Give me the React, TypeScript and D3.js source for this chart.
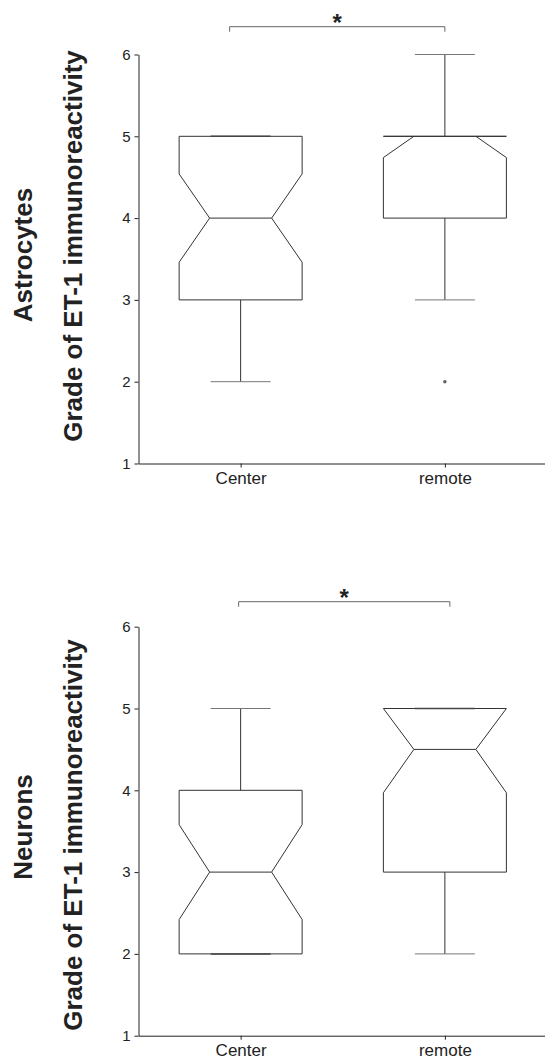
import { useEffect, useRef } from 'react'
import * as d3 from 'd3'

const categories = ['Center', 'remote']
const yTicks = [1, 2, 3, 4, 5, 6]

// per category: [lower whisker, q1, median, q3, upper whisker]
const astroStats = [
  [2, 3, 4, 5, 5],
  [3, 4, 5, 5, 6],
]
const astroNotch = [0.54, 0.26]
const astroOutliers = [[], [2]]

const neuronStats = [
  [2, 2, 3, 4, 5],
  [2, 3, 4.5, 5, 5],
]
const neuronNotch = [0.58, 0.53]
const neuronOutliers = [[], []]

const panels = [
  { title: 'Astrocytes', stats: astroStats, notch: astroNotch, outliers: astroOutliers, top: 54.5, bottom: 463.5, titleY: 255, labelY: 246, bracketY: 26.7, bracketL: -11, bracketR: 0 },
  { title: 'Neurons', stats: neuronStats, notch: neuronNotch, outliers: neuronOutliers, top: 626.7, bottom: 1035.7, titleY: 827, labelY: 835, bracketY: 601.7, bracketL: -2, bracketR: 5 },
]

const FONT = '"Liberation Sans", Arial, Helvetica, sans-serif'

export default function App() {
  const ref = useRef<SVGSVGElement>(null)

  useEffect(() => {
    const svg = d3.select(ref.current)
    svg.selectAll('*').remove()

    const x = d3.scalePoint<string>().domain(categories).range([138.5, 547]).padding(0.5)
    const halfBox = 61.5
    const inset = 30.5
    const halfCap = 30

    panels.forEach(p => {
      const y = d3.scaleLinear().domain([1, 6]).range([p.bottom, p.top])
      const g = svg.append('g')

      // axes
      const ya = g.append('g')
        .attr('transform', 'translate(138.5,0)')
        .call(d3.axisLeft(y).tickValues(yTicks).tickFormat(d3.format('d')).tickSize(4).tickSizeOuter(0).tickPadding(4))
      ya.selectAll('text').attr('font-size', 15).attr('font-family', FONT).attr('fill', '#222')
      ya.selectAll('line,path').attr('stroke', '#222')

      const xa = g.append('g')
        .attr('transform', `translate(0,${p.bottom})`)
        .call(d3.axisBottom(x).tickSize(4).tickSizeOuter(0).tickPadding(4))
      xa.selectAll('text').attr('font-size', 17).attr('font-family', FONT).attr('fill', '#222')
      xa.selectAll('line,path').attr('stroke', '#222')

      // axis titles
      g.append('text')
        .attr('transform', `translate(32,${p.titleY}) rotate(-90)`)
        .attr('text-anchor', 'middle')
        .attr('font-family', FONT).attr('font-weight', 'bold').attr('font-size', 26)
        .attr('fill', '#222')
        .text(p.title)
      g.append('text')
        .attr('transform', `translate(82,${p.labelY}) rotate(-90)`)
        .attr('text-anchor', 'middle')
        .attr('font-family', FONT).attr('font-weight', 'bold').attr('font-size', 26)
        .attr('fill', '#222')
        .text('Grade of ET-1 immunoreactivity')

      // boxes
      categories.forEach((c, i) => {
        const [lo, q1, med, q3, hi] = p.stats[i]
        const n = p.notch[i]
        const cx = x(c) as number
        const L = cx - halfBox
        const R = cx + halfBox
        const nLo = Math.max(q1, med - n)
        const nHi = Math.min(q3, med + n)
        const pts: [number, number][] = [
          [L, y(q1)], [L, y(nLo)], [L + inset, y(med)], [L, y(nHi)], [L, y(q3)],
          [R, y(q3)], [R, y(nHi)], [R - inset, y(med)], [R, y(nLo)], [R, y(q1)],
        ]
        const bg = g.append('g').attr('stroke', '#333').attr('fill', 'none').attr('stroke-width', 1)
        bg.append('path').attr('d', d3.line()(pts) + 'Z')
        bg.append('line').attr('x1', L + inset).attr('x2', R - inset).attr('y1', y(med)).attr('y2', y(med))

        // whiskers
        ;[[q1, lo], [q3, hi]].forEach(([a, b]) => {
          if (a === b) {
            bg.append('line').attr('x1', cx - halfCap).attr('x2', cx + halfCap)
              .attr('y1', y(b)).attr('y2', y(b)).attr('stroke', '#444').attr('stroke-width', 1.5)
            return
          }
          bg.append('line').attr('x1', cx).attr('x2', cx).attr('y1', y(a)).attr('y2', y(b))
          bg.append('line').attr('x1', cx - halfCap).attr('x2', cx + halfCap)
            .attr('y1', y(b)).attr('y2', y(b)).attr('stroke', '#777')
        })

        p.outliers[i].forEach(v => {
          g.append('circle').attr('cx', cx).attr('cy', y(v)).attr('r', 1.8).attr('fill', '#666')
        })
      })

      // significance bracket
      const bl = (x('Center') as number) + p.bracketL
      const br = (x('remote') as number) + p.bracketR
      g.append('path')
        .attr('d', `M${bl},${p.bracketY + 5}V${p.bracketY}H${br}V${p.bracketY + 5}`)
        .attr('fill', 'none').attr('stroke', '#666').attr('stroke-width', 1)
      g.append('text')
        .attr('x', (bl + br) / 2).attr('y', p.bracketY + 4)
        .attr('text-anchor', 'middle')
        .attr('font-family', FONT).attr('font-weight', 'bold').attr('font-size', 24).attr('fill', '#222')
        .text('*')
    })
  }, [])

  return (
    <div style={{ position: 'absolute', left: 0, top: 0 }}>
      <svg ref={ref} width={545} height={1061} style={{ display: 'block', background: '#fff' }} />
    </div>
  )
}
